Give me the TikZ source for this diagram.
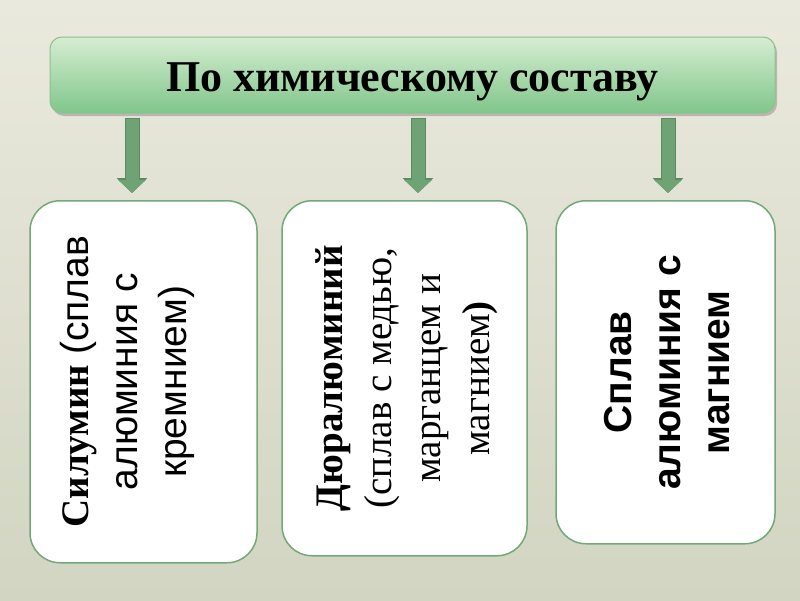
\documentclass[tikz,border=0pt]{standalone}
\usepackage{fontspec}
\setmainfont{Liberation Serif}
\newfontfamily\arialfont{Liberation Sans}
\usetikzlibrary{arrows.meta,calc,shadows}
\definecolor{bgtop}{HTML}{EAE9DD}
\definecolor{bgbot}{HTML}{D2D5C2}
\definecolor{bantop}{HTML}{D6EDD2}
\definecolor{banbot}{HTML}{80C68A}
\definecolor{banline}{HTML}{8DC08F}
\definecolor{cardline}{HTML}{73A877}
\definecolor{arrowfill}{HTML}{6FA375}
\definecolor{arrowline}{HTML}{5A8C5E}
\tikzset{
  banner/.style={draw=banline,line width=1pt,rounded corners=12pt,top color=bantop,bottom color=banbot,
    minimum width=725pt,minimum height=76pt,font=\fontsize{44}{52}\selectfont\bfseries,
    text height=33pt,text depth=0pt,
    drop shadow={shadow xshift=2pt,shadow yshift=-3pt,opacity=.35,fill=black!60}},
  card/.style={draw=cardline,line width=1.5pt,fill=white,rounded corners=30pt,anchor=north},
  cardtext/.style={rotate=90,align=center,font=\fontsize{39}{49}\selectfont},
  flow/.style={draw=arrowfill,line width=13pt,-{Triangle[length=13pt,width=27pt]},
    preaction={draw=arrowline,line width=15pt,shorten <=-1pt,-{Triangle[length=15pt,width=30pt]}}}
}

\begin{document}
\begin{tikzpicture}[x=1pt,y=-1pt]
\useasboundingbox (0,0) rectangle (800,600);
\shade[top color=bgtop,bottom color=bgbot] (0,0) rectangle (800,600);

\node[banner] (title) at (412.5,75) {По химическому составу};

\node[card,minimum width=227pt,minimum height=362pt] (silumin) at (143.5,200) {};
\node[card,minimum width=245pt,minimum height=355pt] (dural) at (404.5,200) {};
\node[card,minimum width=219pt,minimum height=343pt] (magnal) at (665.5,200) {};

\node[cardtext] (silumin-txt) at ($(silumin.center)+(-16,0)$)
  {\textbf{Силумин} {\arialfont(сплав}\\{\arialfont алюминия с}\\{\arialfont кремнием)}};
\node[cardtext] (dural-txt) at ($(dural.center)+(2,0)$)
  {\textbf{Дюралюминий}\\(сплав с медью,\\марганцем и\\магнием\textbf{)}};
\node[cardtext,font=\fontsize{39}{49}\selectfont\arialfont\bfseries] (magnal-txt) at ($(magnal.center)+(2,0)$)
  {Сплав\\алюминия с\\магнием};

\draw[flow] ($(silumin.north |- title.south)+(-11.5,5)$) -- ($(silumin.north)+(-11.5,-7)$);
\draw[flow] ($(dural.north |- title.south)+(13.5,5)$) -- ($(dural.north)+(13.5,-7)$);
\draw[flow] ($(magnal.north |- title.south)+(2.5,5)$) -- ($(magnal.north)+(2.5,-7)$);

\end{tikzpicture}
\end{document}
